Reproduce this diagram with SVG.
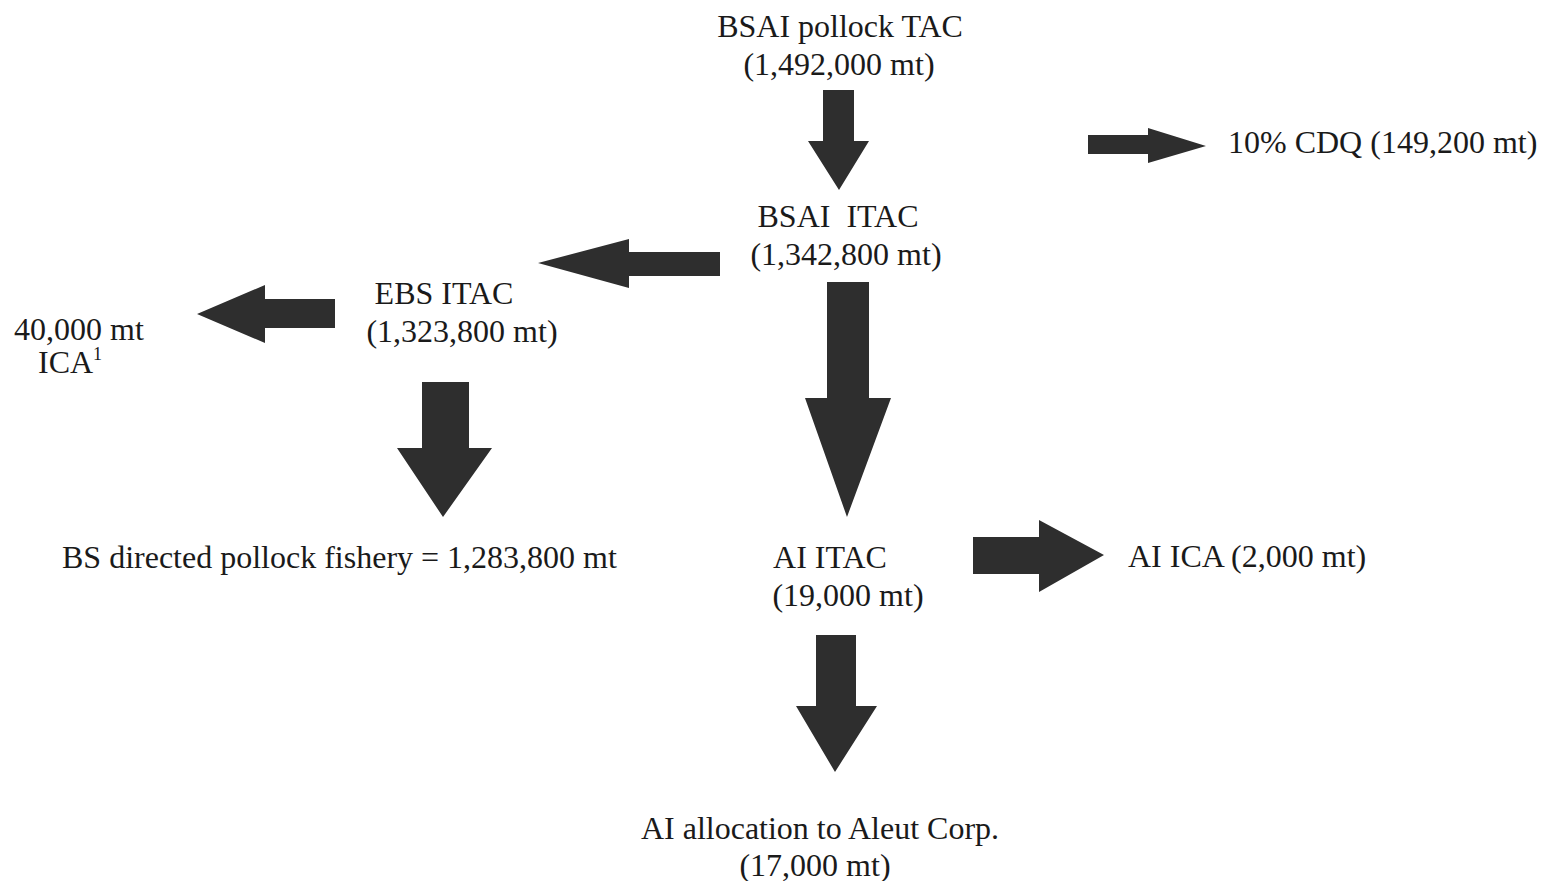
<svg xmlns="http://www.w3.org/2000/svg" width="1542" height="881" viewBox="0 0 1542 881">
<style>
text{font-family:"Liberation Serif","Times New Roman",serif;font-size:32px;fill:#1a1a1a}
.c{text-anchor:middle}
.arrow{fill:#2e2e2e}
</style>
<rect width="1542" height="881" fill="#ffffff"/>
<g id="connectors">
<polygon class="arrow" points="823,90 854,90 854,141 869,141 839,190 808,141 823,141"/>
<polygon class="arrow" points="1088,135 1148,135 1148,128 1206,146 1148,163 1148,154 1088,154"/>
<polygon class="arrow" points="720,252 629,252 629,239 538,263 629,288 629,276 720,276"/>
<polygon class="arrow" points="335,299 265,299 265,285 197,314 265,343 265,328 335,328"/>
<polygon class="arrow" points="422,382 469,382 469,448 492,448 443,517 397,448 422,448"/>
<polygon class="arrow" points="827,282 869,282 869,398 891,398 847,517 805,398 827,398"/>
<polygon class="arrow" points="973,537 1039,537 1039,520 1104,555 1039,592 1039,574 973,574"/>
<polygon class="arrow" points="816,635 856,635 856,706 877,706 835,772 796,706 816,706"/>
</g>
<g id="bsai-tac"><text class="c" x="840" y="37">BSAI pollock TAC</text><text class="c" x="839" y="75">(1,492,000 mt)</text></g>
<g id="cdq"><text x="1228" y="153">10% CDQ (149,200 mt)</text></g>
<g id="bsai-itac"><text class="c" x="838" y="227" xml:space="preserve">BSAI  ITAC</text><text class="c" x="846" y="265">(1,342,800 mt)</text></g>
<g id="ebs-itac"><text class="c" x="444" y="304">EBS ITAC</text><text class="c" x="462" y="342">(1,323,800 mt)</text></g>
<g id="ica"><text x="14" y="340">40,000 mt</text><text x="38" y="373">ICA<tspan font-size="18" dy="-13">1</tspan></text></g>
<g id="bs-directed"><text x="62" y="568">BS directed pollock fishery = 1,283,800 mt</text></g>
<g id="ai-itac"><text class="c" x="830" y="568">AI ITAC</text><text class="c" x="848" y="606">(19,000 mt)</text></g>
<g id="ai-ica"><text x="1128" y="567">AI ICA (2,000 mt)</text></g>
<g id="aleut"><text class="c" x="820" y="839">AI allocation to Aleut Corp.</text><text class="c" x="815" y="876">(17,000 mt)</text></g>
</svg>
